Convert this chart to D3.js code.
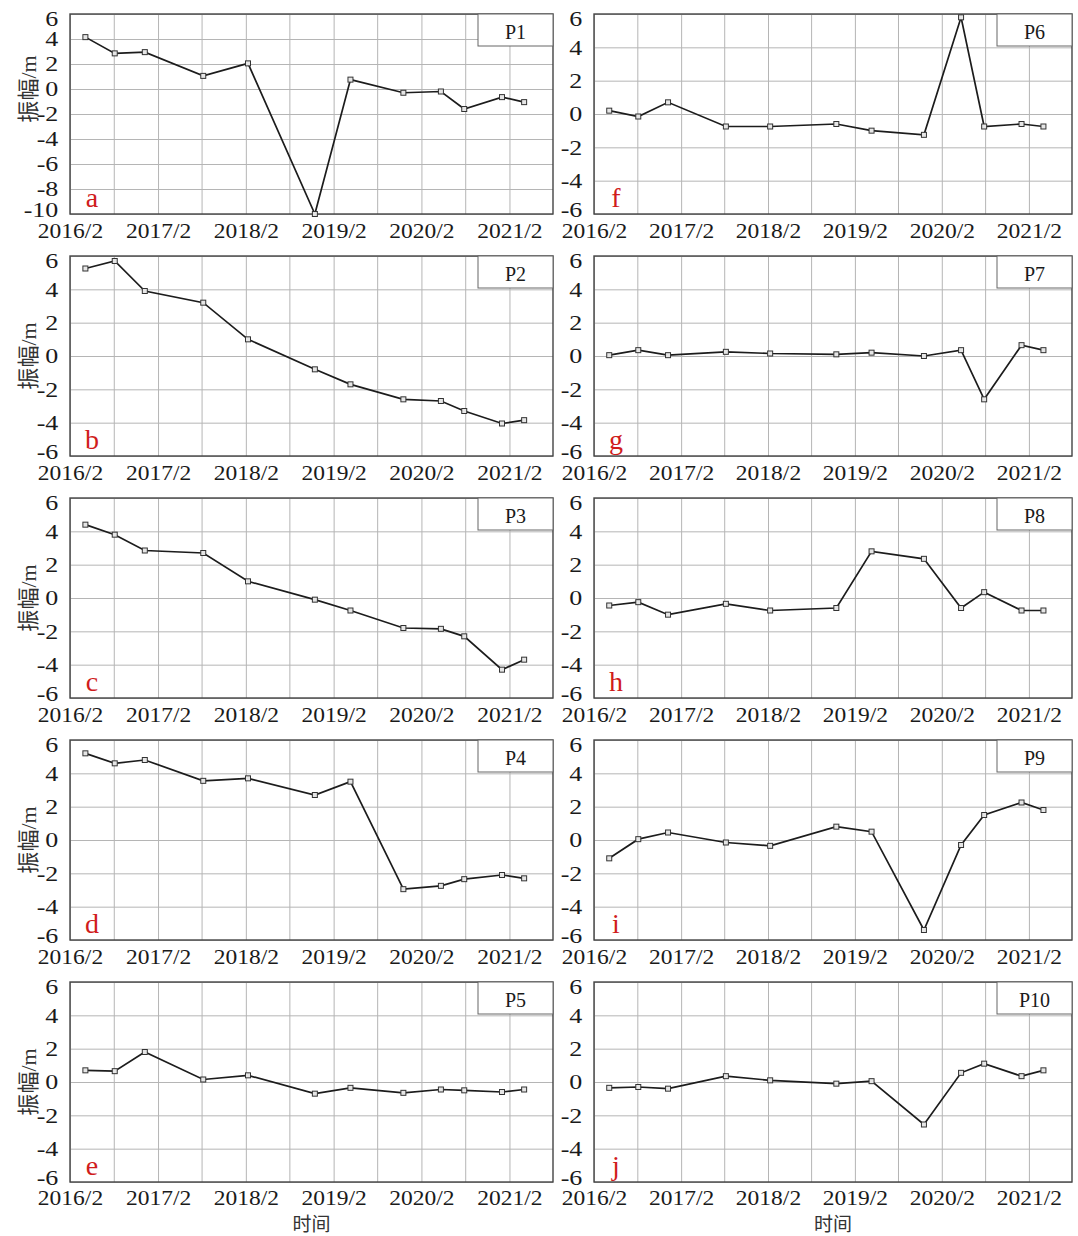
<!DOCTYPE html>
<html>
<head>
<meta charset="utf-8">
<script src="https://cdn.jsdelivr.net/npm/d3@7"></script>
<style>
body { margin: 0; background: #fff; }
</style>
</head>
<body>
<svg></svg>
<script>
// survey dates shared by all points
var dates = ["2016-04-05", "2016-08-05", "2016-12-08", "2017-08-08", "2018-02-10", "2018-11-15",
    "2019-04-12", "2019-11-18", "2020-04-22", "2020-07-28", "2021-01-01", "2021-04-03"];

var P1 = [4.15, 2.85, 2.95, 1.05, 2.05, -10.0, 0.75, -0.3, -0.2, -1.6, -0.65, -1.05];
var P2 = [5.25, 5.7, 3.9, 3.2, 1.0, -0.8, -1.7, -2.6, -2.7, -3.3, -4.05, -3.85];
var P3 = [4.4, 3.8, 2.85, 2.7, 1.0, -0.1, -0.75, -1.8, -1.85, -2.3, -4.3, -3.7];
var P4 = [5.2, 4.6, 4.8, 3.55, 3.7, 2.7, 3.5, -2.95, -2.75, -2.35, -2.1, -2.3];
var P5 = [0.7, 0.65, 1.8, 0.15, 0.4, -0.7, -0.35, -0.65, -0.45, -0.5, -0.6, -0.45];
var P6 = [0.2, -0.15, 0.7, -0.75, -0.75, -0.6, -1.0, -1.25, 5.8, -0.75, -0.6, -0.75];
var P7 = [0.05, 0.35, 0.05, 0.25, 0.15, 0.1, 0.2, 0.0, 0.35, -2.6, 0.65, 0.35];
var P8 = [-0.45, -0.25, -1.0, -0.35, -0.75, -0.6, 2.8, 2.35, -0.6, 0.35, -0.75, -0.75];
var P9 = [-1.1, 0.05, 0.45, -0.15, -0.35, 0.8, 0.5, -5.4, -0.3, 1.5, 2.25, 1.8];
var P10 = [-0.35, -0.3, -0.4, 0.35, 0.1, -0.1, 0.05, -2.55, 0.55, 1.1, 0.35, 0.7];

var seriesNames = ["P1", "P2", "P3", "P4", "P5", "P6", "P7", "P8", "P9", "P10"];
var panelLetters = ["a", "b", "c", "d", "e", "f", "g", "h", "i", "j"];

var xStart = "2016-02-01", xEnd = "2021-08-01";
var xTickDates = ["2016-02-01", "2017-02-01", "2018-02-01", "2019-02-01", "2020-02-01", "2021-02-01"];
var xTickLabels = ["2016/2", "2017/2", "2018/2", "2019/2", "2020/2", "2021/2"];
var yTicksP1 = [6, 4, 2, 0, -2, -4, -6, -8, -10];
var yTicksOther = [6, 4, 2, 0, -2, -4, -6];

var series = [P1, P2, P3, P4, P5, P6, P7, P8, P9, P10];

var parseDate = d3.timeParse("%Y-%m-%d");
var svg = d3.select("svg").attr("width", 1078).attr("height", 1236);

var colLeft = [70, 594], colRight = [553, 1072];
var firstTop = 14, rowStep = 242, panelH = 200;
var serif = "'Liberation Serif', 'Times New Roman', serif";
var cjk = "'Noto Sans CJK SC', sans-serif";

var gridDates = d3.timeMonth.range(parseDate(xStart), parseDate(xEnd), 6);

series.forEach(function (values, i) {
    var col = Math.floor(i / 5), row = i % 5;
    var left = colLeft[col], right = colRight[col];
    var top = firstTop + row * rowStep, bottom = top + panelH;
    var yTicks = i === 0 ? yTicksP1 : yTicksOther;
    var yMax = d3.max(yTicks), yMin = d3.min(yTicks);

    var x = d3.scaleTime()
        .domain([parseDate(xStart), parseDate(xEnd)])
        .range([left, right]);
    var y = d3.scaleLinear()
        .domain([yMin, yMax])
        .range([bottom, top]);

    var g = svg.append("g");

    // grid
    g.append("g")
        .attr("transform", "translate(0," + bottom + ")")
        .call(d3.axisBottom(x).tickValues(gridDates).tickSize(-panelH).tickFormat(""))
        .call(function (s) { s.select(".domain").remove(); })
        .selectAll("line").attr("stroke", "#b5b5b5");
    g.append("g")
        .attr("transform", "translate(" + left + ",0)")
        .call(d3.axisLeft(y).tickValues(yTicks).tickSize(-(right - left)).tickFormat(""))
        .call(function (s) { s.select(".domain").remove(); })
        .selectAll("line").attr("stroke", "#b5b5b5");

    // frame
    g.append("rect")
        .attr("x", left).attr("y", top)
        .attr("width", right - left).attr("height", panelH)
        .attr("fill", "none").attr("stroke", "#444").attr("stroke-width", 1.4);

    // tick labels
    var xa = g.append("g")
        .attr("transform", "translate(0," + bottom + ")")
        .call(d3.axisBottom(x).tickValues(xTickDates.map(parseDate)).tickSize(0)
            .tickFormat(function (d, k) { return xTickLabels[k]; }));
    xa.select(".domain").remove();
    xa.selectAll("text")
        .attr("y", row === 4 ? 23 : 24).attr("dy", null)
        .attr("transform", "scale(1.12,1)")
        .style("font-family", serif).style("font-size", "21px").attr("fill", "#1a1a1a");

    var ya = g.append("g")
        .attr("transform", "translate(" + left + ",0)")
        .call(d3.axisLeft(y).tickValues(yTicks).tickSize(0).tickPadding(9)
            .tickFormat(function (d) { return String(d); }));
    ya.select(".domain").remove();
    ya.selectAll("text")
        .attr("dy", function (d) {
            if (d === yMax) return "0.55em";
            if (d === yMin) return "0.1em";
            return "0.34em";
        })
        .attr("transform", "scale(1.3,1)")
        .style("font-family", serif).style("font-size", "20px").attr("fill", "#1a1a1a");

    // legend box
    g.append("rect")
        .attr("x", right - 75).attr("y", top)
        .attr("width", 75).attr("height", 32)
        .attr("fill", "#fff").attr("stroke", "#666").attr("stroke-width", 1);
    g.append("text")
        .attr("x", right - 37.5).attr("y", top + 25)
        .attr("text-anchor", "middle")
        .style("font-family", serif).style("font-size", "20px").attr("fill", "#1a1a1a")
        .text(seriesNames[i]);

    // series
    var pts = values.map(function (v, k) { return { date: parseDate(dates[k]), v: v }; });
    var line = d3.line()
        .x(function (d) { return x(d.date); })
        .y(function (d) { return y(d.v); });
    g.append("path")
        .datum(pts)
        .attr("d", line)
        .attr("fill", "none").attr("stroke", "#1c1c1c").attr("stroke-width", 1.7);
    g.selectAll("rect.mk").data(pts).enter()
        .append("rect")
        .attr("class", "mk")
        .attr("x", function (d) { return x(d.date) - 2.5; })
        .attr("y", function (d) { return y(d.v) - 2.5; })
        .attr("width", 5).attr("height", 5)
        .attr("fill", "#e6e6e6").attr("stroke", "#333").attr("stroke-width", 1);

    // panel letter
    g.append("text")
        .attr("x", left + 22).attr("y", bottom - 7)
        .attr("text-anchor", "middle")
        .style("font-family", serif).style("font-size", "28px").attr("fill", "#d01c1c")
        .text(panelLetters[i]);

    // axis titles
    if (col === 0) {
        var yl = g.append("text")
            .attr("transform", "translate(28," + y(0) + ") rotate(-90)")
            .attr("text-anchor", "middle").attr("dy", "0.35em")
            .style("font-family", cjk).style("font-size", "22px").attr("fill", "#333");
        yl.append("tspan").text("振幅");
        yl.append("tspan").style("font-family", serif).text("/m");
    }
    if (row === 4) {
        g.append("text")
            .attr("x", (left + right) / 2).attr("y", bottom + 49)
            .attr("text-anchor", "middle")
            .style("font-family", cjk).style("font-size", "19px").attr("fill", "#333")
            .text("时间");
    }
});
</script>
</body>
</html>
